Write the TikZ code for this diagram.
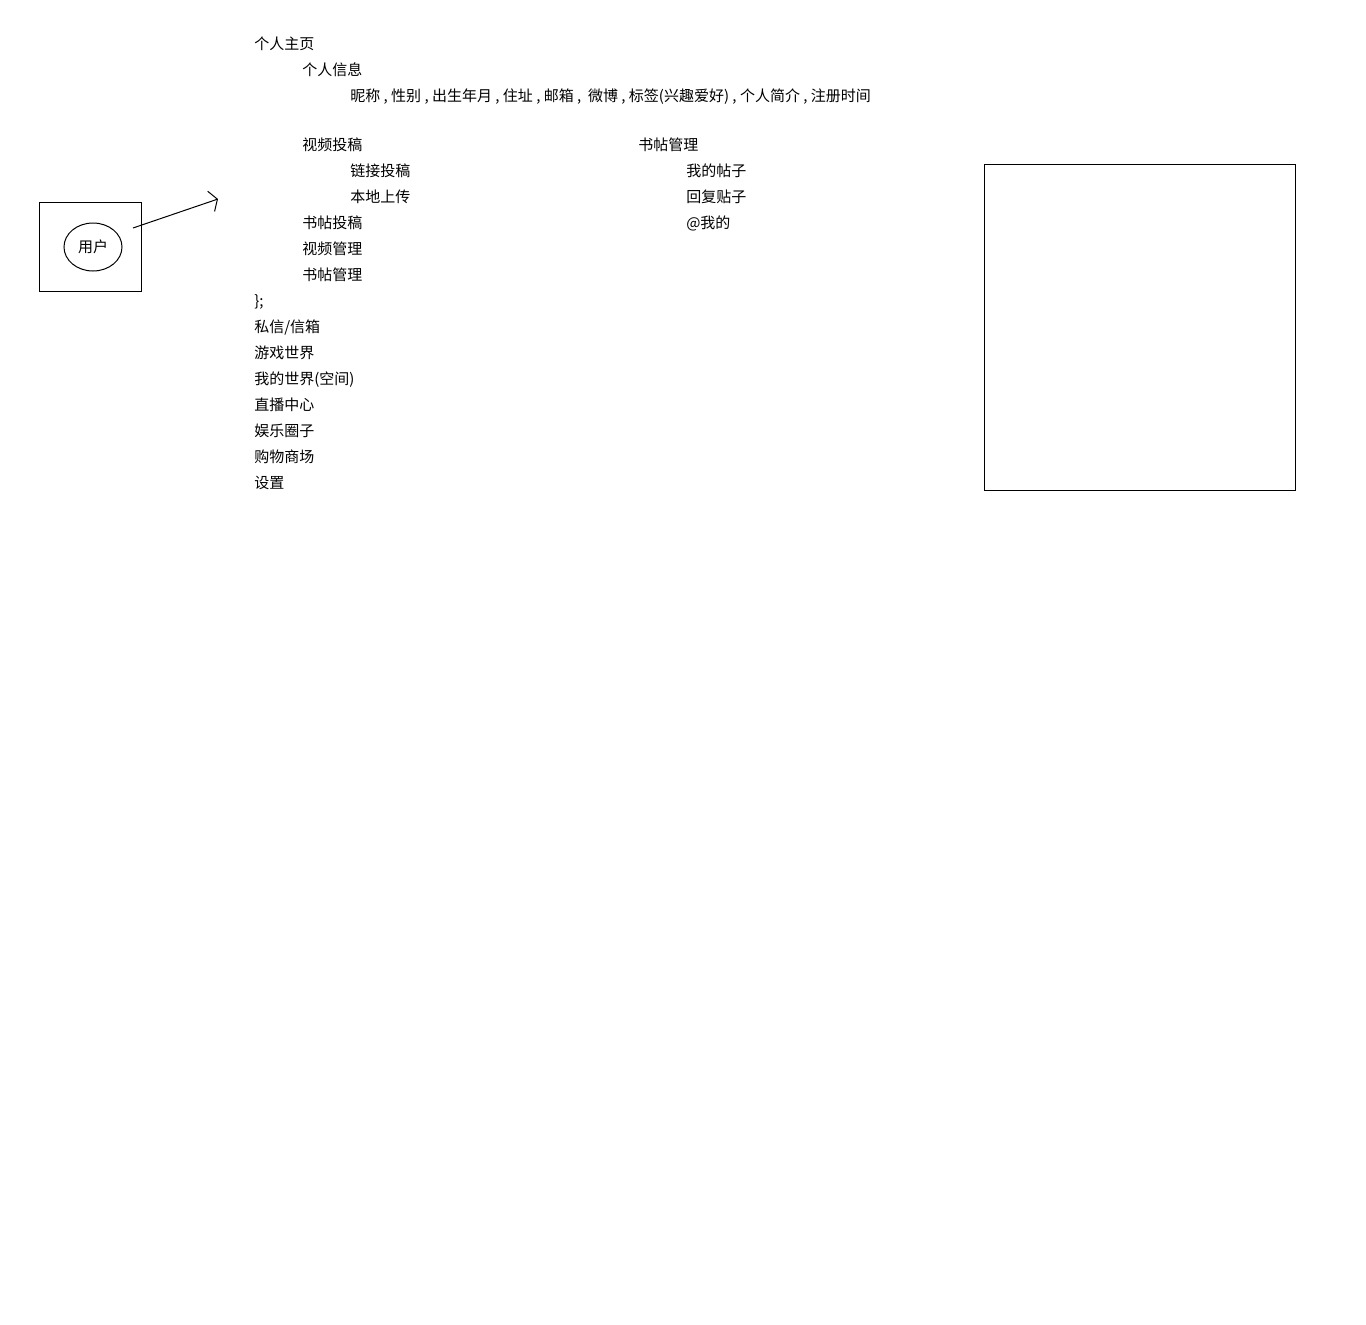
\documentclass[tikz,border=0pt]{standalone}
\usepackage{fontspec}
\newfontfamily\cjk{Noto Sans CJK SC}
\usetikzlibrary{positioning, arrows.meta, shapes.geometric}
\tikzstyle{item} = [anchor=west, inner sep=0pt, text height=9.9pt, text depth=1.35pt, font=\cjk\fontsize{11.25pt}{13pt}\selectfont]
\tikzstyle{frame} = [rectangle, draw=black, line width=0.75pt, inner sep=0pt]
\tikzstyle{actor} = [ellipse, draw=black, line width=0.75pt, minimum width=43.5pt, minimum height=36pt, inner sep=0pt, font=\cjk\fontsize{11.25pt}{13pt}\selectfont]
\tikzstyle{arrow} = [line width=0.75pt, -{Straight Barb[length=5pt, width=16pt]}]

\begin{document}
\begin{tikzpicture}[x=0.75pt, y=-0.75pt, on grid, node distance=19.5pt and 36pt]
		\useasboundingbox (0,0) rectangle (1366,1324);
		
		% user
		\node (userbox) [frame, minimum width=76.5pt, minimum height=66.75pt] at (90,246.5) {};
		\node (user) [actor] at (93,247) {用户};
		\coordinate (tail) at (133,228);
		\coordinate (tip) at (218,199);
		\draw [arrow] (tail) -- (tip);
		
		% menu
		\node (home) [item] at (254,43.5) {个人主页};
		\node (info) [item, below right=of home.west, anchor=west] {个人信息};
		\node (fields) [item, below right=of info.west, anchor=west] {昵称 , 性别 , 出生年月 , 住址 , 邮箱 ,\ \ 微博 , 标签(兴趣爱好) , 个人简介 , 注册时间};
		\node (video) [item, below left=36.75pt and 36pt of fields.west, anchor=west] {视频投稿};
		\node (link) [item, below right=of video.west, anchor=west] {链接投稿};
		\node (upload) [item, below=of link.west, anchor=west] {本地上传};
		\node (postup) [item, below left=of upload.west, anchor=west] {书帖投稿};
		\node (videomgr) [item, below=of postup.west, anchor=west] {视频管理};
		\node (postmgr) [item, below=of videomgr.west, anchor=west] {书帖管理};
		\node (brace) [item, below left=of postmgr.west, anchor=west] {\};};
		\node (mail) [item, below=of brace.west, anchor=west] {私信/信箱};
		\node (game) [item, below=of mail.west, anchor=west] {游戏世界};
		\node (space) [item, below=of game.west, anchor=west] {我的世界(空间)};
		\node (live) [item, below=of space.west, anchor=west] {直播中心};
		\node (fun) [item, below=of live.west, anchor=west] {娱乐圈子};
		\node (shop) [item, below=of fun.west, anchor=west] {购物商场};
		\node (setting) [item, below=of shop.west, anchor=west] {设置};
		
		% posts
		\node (posts) [item, right=252pt of video.west, anchor=west] {书帖管理};
		\node (mine) [item, below right=of posts.west, anchor=west] {我的帖子};
		\node (reply) [item, below=of mine.west, anchor=west] {回复贴子};
		\node (atme) [item, below=of reply.west, anchor=west] {@我的};
		
		\node (panel) [frame, minimum width=233.25pt, minimum height=244.5pt] at (1139.8,327.3) {};
	\end{tikzpicture}
\end{document}
